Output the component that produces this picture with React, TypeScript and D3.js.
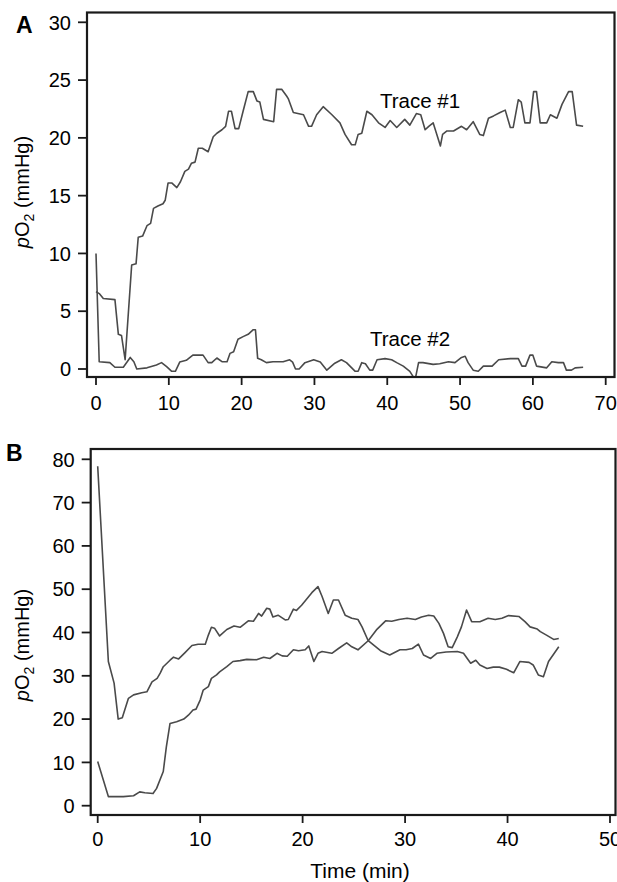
import React from "react";
import * as d3 from "d3";

// ---------- Panel A data ----------
const aTicksX = [0, 10, 20, 30, 40, 50, 60, 70];
const aTicksY = [0, 5, 10, 15, 20, 25, 30];

const aTrace1Time = [0, 0.5, 1.0, 2.6, 3.07, 3.5, 4.0, 4.9, 5.5, 5.8, 6.4, 7.0, 7.5, 7.9, 8.5, 9.2, 9.5, 9.9, 10.4, 11.1, 11.6, 12.2, 12.7, 13.1, 13.6, 14.05, 14.6, 15.4, 16.1, 16.6, 17.3, 17.8, 18.2, 18.6, 19.1, 19.6, 20.2, 20.9, 21.6, 22.1, 22.5, 23.0, 24.4, 24.8, 25.5, 26.2, 26.4, 27.1, 28.5, 29.2, 29.6, 30.3, 31.2, 32.4, 33.5, 34.2, 35.1, 35.6, 36.0, 36.5, 37.2, 37.9, 38.8, 39.7, 40.4, 41.3, 42.4, 43.1, 44.0, 44.6, 45.2, 45.7, 46.3, 47.3, 47.6, 48.2, 49.1, 50.2, 50.9, 51.8, 52.7, 53.2, 53.9, 54.6, 55.5, 56.2, 56.9, 57.3, 58.0, 58.4, 58.9, 59.6, 60.1, 60.5, 61.0, 61.9, 62.4, 63.3, 64.0, 64.9, 65.4, 66.0, 66.9];
const aTrace1Values = [6.7, 6.5, 6.1, 6.0, 3.0, 2.9, 0.8, 9.0, 9.1, 11.4, 11.5, 12.4, 12.6, 13.9, 14.1, 14.3, 14.6, 16.1, 16.1, 15.7, 16.2, 17.1, 17.3, 17.8, 17.9, 19.1, 19.1, 18.8, 20.1, 20.4, 20.7, 21.0, 22.3, 22.3, 20.8, 20.8, 22.3, 24.0, 24.0, 23.2, 23.1, 21.6, 21.4, 24.2, 24.2, 23.6, 23.4, 22.2, 22.0, 21.0, 21.0, 22.0, 22.7, 22.0, 21.3, 20.3, 19.4, 19.4, 20.3, 20.4, 22.3, 22.0, 21.3, 20.9, 21.5, 20.9, 21.6, 21.1, 22.1, 22.0, 20.7, 21.0, 21.3, 19.3, 20.3, 20.6, 20.6, 21.0, 20.7, 21.4, 20.3, 20.2, 21.7, 21.9, 22.2, 22.4, 20.9, 20.9, 23.3, 23.1, 21.3, 21.3, 24.0, 24.0, 21.3, 21.3, 22.0, 21.7, 22.9, 24.0, 24.0, 21.1, 21.0];

const aTrace2Time = [0, 0.44, 1.9, 2.6, 3.75, 4.7, 5.2, 5.6, 7.0, 8.3, 9.0, 9.7, 10.4, 10.9, 11.5, 12.4, 13.3, 14.7, 15.4, 15.9, 16.6, 17.3, 18.0, 18.4, 18.9, 19.5, 20.2, 20.9, 21.6, 21.9, 22.2, 22.7, 23.4, 24.3, 25.7, 26.6, 27.0, 27.4, 27.9, 28.7, 29.9, 30.8, 31.7, 32.8, 33.7, 34.4, 35.6, 36.0, 36.5, 37.0, 37.6, 38.0, 38.6, 39.7, 40.6, 41.3, 42.2, 43.1, 43.6, 43.9, 44.3, 44.9, 46.3, 47.2, 48.4, 49.3, 50.2, 50.7, 51.1, 51.8, 52.5, 53.2, 54.4, 55.3, 56.9, 58.0, 58.5, 59.0, 59.6, 60.0, 60.5, 61.9, 62.6, 63.5, 64.2, 64.6, 65.3, 65.8, 66.9];
const aTrace2Values = [10.0, 0.63, 0.55, 0.15, 0.15, 1.0, 0.63, 0.0, 0.1, 0.35, 0.55, 0.2, -0.2, -0.2, 0.6, 0.75, 1.2, 1.2, 0.55, 0.55, 0.95, 0.63, 0.63, 1.35, 1.5, 2.57, 2.8, 3.0, 3.4, 3.4, 0.92, 0.8, 0.55, 0.63, 0.63, 0.8, 0.6, 0.0, 0.0, 0.55, 0.8, 0.6, -0.1, 0.5, 0.8, 0.55, -0.2, -0.2, 0.55, 0.45, -0.1, -0.1, 0.8, 0.9, 0.8, 0.55, 0.25, -0.2, -0.7, -0.7, 0.55, 0.55, 0.4, 0.45, 0.63, 0.55, 1.0, 1.1, 0.55, -0.1, -0.2, 0.25, 0.25, 0.8, 0.9, 0.9, 0.25, 0.25, 1.2, 1.2, 0.25, 0.1, 0.63, 0.55, 0.55, -0.1, -0.1, 0.1, 0.15];

// ---------- Panel B data ----------
const bTicksX = [0, 10, 20, 30, 40, 50];
const bTicksY = [0, 10, 20, 30, 40, 50, 60, 70, 80];

const bTrace1Time = [0, 1.04, 1.6, 2.0, 2.4, 3.0, 3.5, 4.3, 4.8, 5.3, 5.8, 6.1, 6.4, 7.06, 7.4, 7.9, 8.5, 9.2, 9.8, 10.5, 10.8, 11.1, 11.4, 11.9, 12.6, 13.3, 13.9, 14.7, 15.2, 15.7, 16.0, 16.5, 16.8, 17.1, 17.6, 18.3, 18.6, 19.1, 19.4, 19.9, 20.9, 21.5, 21.9, 22.5, 23.0, 23.5, 24.15, 24.8, 25.4, 25.8, 26.4, 27.6, 28.5, 29.5, 30.1, 30.7, 31.3, 31.8, 32.5, 33.1, 34.0, 35.1, 35.7, 36.4, 36.9, 37.3, 38.0, 38.6, 39.2, 39.9, 40.6, 41.2, 42.1, 42.5, 43.0, 43.5, 44.0, 45.0];
const bTrace1Values = [78.4, 33.3, 28.3, 20.0, 20.3, 24.8, 25.6, 26.1, 26.3, 28.6, 29.4, 30.6, 32.1, 33.6, 34.3, 33.9, 35.3, 37.0, 37.3, 37.3, 39.4, 41.2, 41.0, 39.2, 40.7, 41.5, 41.2, 42.7, 42.6, 44.4, 43.8, 45.6, 45.4, 43.6, 44.0, 42.9, 43.0, 45.4, 45.1, 46.3, 49.2, 50.6, 48.3, 44.4, 47.5, 47.5, 44.0, 43.3, 43.0, 41.3, 38.1, 35.8, 34.8, 36.0, 36.0, 36.3, 37.3, 34.8, 34.0, 35.2, 35.5, 35.6, 35.2, 32.9, 33.6, 32.5, 31.7, 32.0, 32.0, 31.5, 30.7, 33.3, 33.1, 32.5, 30.2, 29.8, 33.3, 36.7];

const bTrace2Time = [0, 1.04, 2.5, 3.5, 4.1, 4.6, 5.4, 5.75, 6.4, 6.7, 7.06, 7.7, 8.4, 8.85, 9.3, 9.6, 10.0, 10.3, 10.8, 11.1, 11.6, 11.9, 12.6, 13.2, 13.9, 14.55, 15.5, 16.2, 16.8, 17.5, 18.0, 18.5, 19.1, 19.6, 20.25, 20.6, 21.1, 21.5, 21.9, 22.85, 23.5, 24.3, 24.8, 25.4, 26.4, 27.2, 28.1, 28.7, 29.4, 30.2, 31.0, 31.6, 32.3, 32.8, 33.3, 33.75, 34.2, 34.6, 35.1, 35.5, 36.0, 36.5, 37.3, 38.1, 38.8, 39.45, 40.1, 41.1, 41.7, 42.2, 42.9, 43.2, 43.8, 44.5, 45.0];
const bTrace2Values = [10.2, 2.1, 2.1, 2.3, 3.2, 3.0, 2.8, 4.0, 7.9, 13.6, 19.0, 19.4, 20.0, 20.9, 22.1, 22.3, 24.4, 26.7, 27.5, 29.4, 30.2, 30.9, 32.1, 33.3, 33.5, 33.8, 33.7, 34.3, 34.0, 35.2, 34.6, 34.5, 36.0, 35.8, 36.0, 36.9, 33.3, 35.2, 35.6, 35.2, 36.3, 37.6, 36.7, 36.0, 38.1, 40.6, 42.7, 42.6, 43.0, 43.3, 43.0, 43.6, 44.0, 43.8, 42.1, 39.8, 36.7, 36.5, 39.0, 41.3, 45.2, 42.5, 42.5, 43.3, 43.0, 43.3, 43.9, 43.7, 42.5, 41.3, 40.8, 40.2, 39.4, 38.4, 38.6];

const FONT = "'Liberation Sans', Arial, Helvetica, sans-serif";
const LINE_COLOR = "#4a4a4a";
const AXIS_COLOR = "#1a1a1a";

type Pt = [number, number];
const zip = (t: number[], v: number[]): Pt[] => t.map((x, i) => [x, v[i]]);

interface PanelProps {
  letter: string;
  letterPos: [number, number];
  frame: { left: number; right: number; top: number; bottom: number };
  x: d3.ScaleLinear<number, number>;
  y: d3.ScaleLinear<number, number>;
  ticksX: number[];
  ticksY: number[];
  traces: Pt[][];
  yLabelPos: [number, number];
  xTickBaseline: number;
  children?: React.ReactNode;
}

function Panel(p: PanelProps) {
  const line = d3
    .line<Pt>()
    .x((d) => p.x(d[0]))
    .y((d) => p.y(d[1]));
  const f = p.frame;
  return (
    <g>
      <text x={p.letterPos[0]} y={p.letterPos[1]} fontFamily={FONT} fontWeight="bold" fontSize={23} fill="#000">
        {p.letter}
      </text>
      {p.traces.map((tr, i) => (
        <path key={i} d={line(tr) || ""} fill="none" stroke={LINE_COLOR} strokeWidth={1.6} strokeLinejoin="round" />
      ))}
      <rect x={f.left} y={f.top} width={f.right - f.left} height={f.bottom - f.top} fill="none" stroke={AXIS_COLOR} strokeWidth={2.2} />
      {p.ticksY.map((t) => (
        <g key={"y" + t}>
          <line x1={f.left - 9} x2={f.left} y1={p.y(t)} y2={p.y(t)} stroke={AXIS_COLOR} strokeWidth={1.8} />
          <text x={f.left - 16} y={p.y(t)} dy="0.36em" textAnchor="end" fontFamily={FONT} fontSize={20} fill="#000">
            {t}
          </text>
        </g>
      ))}
      {p.ticksX.map((t) => (
        <g key={"x" + t}>
          <line x1={p.x(t)} x2={p.x(t)} y1={f.bottom} y2={f.bottom + 8} stroke={AXIS_COLOR} strokeWidth={1.8} />
          <text x={p.x(t)} y={p.xTickBaseline} textAnchor="middle" fontFamily={FONT} fontSize={20} fill="#000">
            {t}
          </text>
        </g>
      ))}
      <text
        transform={`translate(${p.yLabelPos[0]},${p.yLabelPos[1]}) rotate(-90)`}
        textAnchor="middle"
        fontFamily={FONT}
        fontSize={20}
        fill="#000"
      >
        <tspan fontStyle="italic">p</tspan>
        <tspan>O</tspan>
        <tspan fontSize={14} dy={5}>2</tspan>
        <tspan dy={-5}> (mmHg)</tspan>
      </text>
      {p.children}
    </g>
  );
}

export default function App() {
  const aFrame = { left: 87, right: 614.5, top: 12.5, bottom: 377 };
  const ax = d3.scaleLinear().domain([0, 70]).range([96, 605.7]);
  const ay = d3.scaleLinear().domain([0, 30]).range([369, 22.3]);

  const bFrame = { left: 90.7, right: 615.5, top: 449, bottom: 815 };
  const bx = d3.scaleLinear().domain([0, 50]).range([97.7, 610]);
  const by = d3.scaleLinear().domain([0, 80]).range([805.7, 459.3]);

  return (
    <svg
      width={617}
      height={882}
      viewBox="0 0 617 882"
      style={{ position: "absolute", left: 0, top: 0, background: "#fff" }}
    >
      <rect x={0} y={0} width={617} height={882} fill="#fff" />
      <Panel
        letter="A"
        letterPos={[16, 33]}
        frame={aFrame}
        x={ax}
        y={ay}
        ticksX={aTicksX}
        ticksY={aTicksY}
        traces={[zip(aTrace1Time, aTrace1Values), zip(aTrace2Time, aTrace2Values)]}
        yLabelPos={[29, 192]}
        xTickBaseline={410}
      >
        <text x={380} y={108} fontFamily={FONT} fontSize={20.5} fill="#000">Trace #1</text>
        <text x={370} y={346} fontFamily={FONT} fontSize={20.5} fill="#000">Trace #2</text>
      </Panel>
      <Panel
        letter="B"
        letterPos={[6, 461]}
        frame={bFrame}
        x={bx}
        y={by}
        ticksX={bTicksX}
        ticksY={bTicksY}
        traces={[zip(bTrace1Time, bTrace1Values), zip(bTrace2Time, bTrace2Values)]}
        yLabelPos={[29, 645]}
        xTickBaseline={846}
      >
        <text x={360} y={878} textAnchor="middle" fontFamily={FONT} fontSize={21} fill="#000">Time (min)</text>
      </Panel>
    </svg>
  );
}
